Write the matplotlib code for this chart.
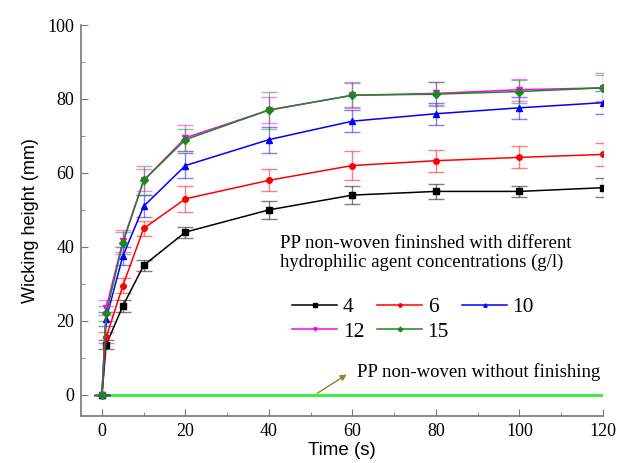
import numpy as np
import matplotlib
matplotlib.use("Agg")
import matplotlib.pyplot as plt
from matplotlib.ticker import MultipleLocator

# time points (s)
time = [0, 1, 5, 10, 20, 40, 60, 80, 100, 120]

# wicking height (mm) per concentration (g/l)
h4  = [0, 13.5, 24, 35, 44, 50, 54, 55, 55, 56]
h6  = [0, 15.5, 29.5, 45, 53, 58, 62, 63.3, 64.2, 65]
h10 = [0, 20.5, 37.5, 51, 62, 69, 74, 76, 77.6, 79]
h12 = [0, 23.5, 41.5, 58, 69.5, 77, 81, 81.5, 82.5, 83]
h15 = [0, 22, 41, 58, 69, 77, 81, 81.3, 82, 83]

# error bars (mm)
e4  = [0, 1.2, 1.5, 1.5, 1.5, 2.5, 2.5, 2, 1.5, 2.5]
e6  = [0, 1.5, 2, 2, 3.5, 3, 3.9, 3, 3, 3]
e10 = [0, 2, 2.5, 3, 3.5, 3.5, 3, 3, 3, 3.2]
e12 = [0, 2, 3, 3, 3.5, 3.5, 3.5, 3, 3, 3.5]
e15 = [0, 2, 3, 4, 3, 5, 3.3, 3.3, 3, 3.9]

# unfinished fabric
time_ref = [0, 120]
h_ref = [0, 0]

labels = ["4", "6", "10", "12", "15"]
heights = [h4, h6, h10, h12, h15]
errors = [e4, e6, e10, e12, e15]
colors = ["#000000", "#ff0000", "#0000ff", "#ff00ff", "#1a8a1a"]
markers = ["s", "o", "^", "v", "D"]

fig = plt.figure(figsize=(6.19, 4.63), dpi=100)
ax = fig.add_axes([0.131, 0.101, 0.843, 0.845])

ax.plot(time_ref, h_ref, color="#33ee33", linewidth=2, zorder=1)

handles = []
for lab, h, e, c, m in zip(labels, heights, errors, colors, markers):
    ax.errorbar(time, h, yerr=e, fmt="none", ecolor=c, alpha=0.5,
                elinewidth=1, capsize=6, capthick=1, zorder=2)
    ln, = ax.plot(time, h, color=c, marker=m, markersize=4, linewidth=1.1,
                  label=lab, zorder=3)
    handles.append(ln)

ax.set_xlim(-5, 120)
ax.set_ylim(-5.8, 100)
ax.xaxis.set_major_locator(MultipleLocator(20))
ax.xaxis.set_minor_locator(MultipleLocator(10))
ax.yaxis.set_major_locator(MultipleLocator(20))
ax.yaxis.set_minor_locator(MultipleLocator(10))

for s in ["top", "right"]:
    ax.spines[s].set_visible(False)
for s in ["left", "bottom"]:
    ax.spines[s].set_color("#777777")
    ax.spines[s].set_linewidth(1.2)

ax.tick_params(which="major", direction="in", length=5, color="#777777",
               labelsize=13, pad=5)
ax.tick_params(which="minor", direction="in", length=3, color="#777777")
for t in ax.get_xticklabels() + ax.get_yticklabels():
    t.set_fontfamily("Liberation Serif")

ax.set_xlabel("Time (s)", fontsize=13.5, family="Liberation Sans", labelpad=1)
ax.set_ylabel("Wicking height (mm)", fontsize=13, family="Liberation Sans",
              labelpad=6)

fig.text(0.452, 0.4536,
         "PP non-woven fininshed with different\nhydrophilic agent concentrations (g/l)",
         fontsize=13.5, family="Liberation Serif",
         va="center", ha="left", linespacing=1.2)

# row-wise legend order: 4 6 10 / 12 15
order = [0, 3, 1, 4, 2]
ax.legend([handles[i] for i in order], [labels[i] for i in order],
          ncol=3, frameon=False, loc="upper left",
          bbox_to_anchor=(0.472, 0.358), bbox_transform=fig.transFigure,
          borderpad=0, borderaxespad=0,
          prop={"family": "Liberation Serif", "size": 15.5},
          handlelength=2.1, handletextpad=0.25, columnspacing=0.6,
          labelspacing=0.2, markerscale=0.6)

ax.text(61.1, 6.2, "PP non-woven without finishing",
        fontsize=13.5, family="Liberation Serif", va="center", ha="left")
ax.annotate("", xy=(59.2, 5.9), xytext=(51, 0),
            arrowprops=dict(arrowstyle="-|>", color="#8a8a30", lw=1,
                            mutation_scale=9))

fig.savefig("out.png", dpi=100)
